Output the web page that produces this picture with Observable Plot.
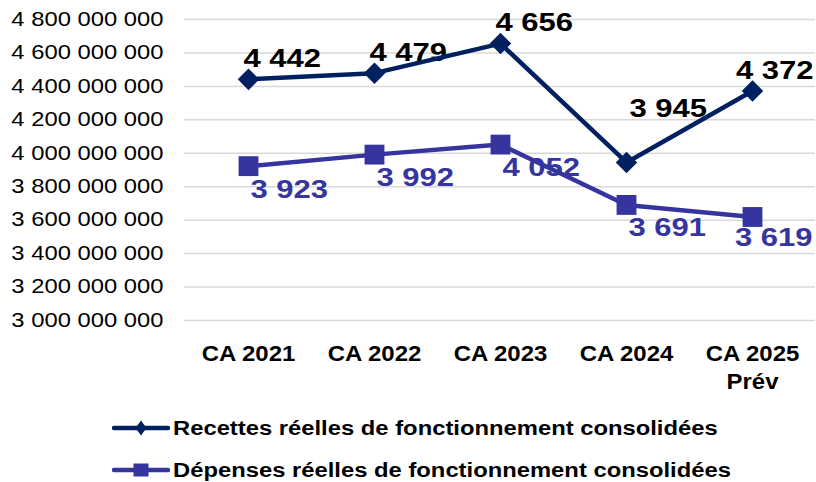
<!DOCTYPE html>
<html>
<head>
<meta charset="utf-8">
<script src="https://cdn.jsdelivr.net/npm/d3@7"></script>
<script src="https://cdn.jsdelivr.net/npm/@observablehq/plot@0.6"></script>
<style>
  body { margin: 0; background: #fff; font-family: "Liberation Sans", Arial, sans-serif; }
  #chart svg { display: block; }
  #legend { margin-left: 112px; margin-top: 12px; }
  .row { display: flex; align-items: center; height: 42px; font-weight: bold; font-size: 19.5px; color: #000; white-space: nowrap; }
  .row svg { display: block; margin-right: 3px; }
  .row span { display: inline-block; transform: scaleX(1.22); transform-origin: 0 50%; }
</style>
</head>
<body>
<div id="chart"></div>
<div id="legend"></div>
<script>
// ---- Data (values in millions of euros) ----
const categories = ["CA 2021", "CA 2022", "CA 2023", "CA 2024", "CA 2025 Prév"];
const recettes = [4442, 4479, 4656, 3945, 4372];
const depenses = [3923, 3992, 4052, 3691, 3619];
const seriesNames = [
  "Recettes réelles de fonctionnement consolidées",
  "Dépenses réelles de fonctionnement consolidées"
];
const yTicks = [3000000000, 3200000000, 3400000000, 3600000000, 3800000000,
                4000000000, 4200000000, 4400000000, 4600000000, 4800000000];

const colR = "#002060";
const colD = "#36359f";

const fmt = v => d3.format(",")(v).replace(/,/g, " ");
const build = arr => categories.map((c, i) => ({ cat: c, value: arr[i] * 1e6, text: fmt(arr[i]), i }));
const rec = build(recettes);
const dep = build(depenses);
const n = categories.length;
const isLast = d => d.i === n - 1;
const trough = arr => d => d.i > 0 && d.i < n - 1 && arr[d.i] < arr[d.i - 1] && arr[d.i] < arr[d.i + 1];
const recTrough = trough(recettes);

const labelStyle = { x: "cat", y: "value", text: "text", fontSize: 26.5, fontWeight: "bold" };

const plot = Plot.plot({
  width: 816,
  height: 395,
  marginLeft: 184,
  marginRight: 1,
  marginTop: 19,
  marginBottom: 75,
  style: { fontFamily: "'Liberation Sans', Arial, sans-serif", background: "#fff", overflow: "visible", color: "#000" },
  x: { type: "point", domain: categories, padding: 0.5 },
  y: { domain: [3000000000, 4800000000] },
  marks: [
    Plot.gridY({ ticks: yTicks, stroke: "#d9d9d9", strokeOpacity: 1, strokeWidth: 1.5 }),
    Plot.axisY({ ticks: yTicks, tickSize: 0, tickPadding: 21, fontSize: 19.5, tickFormat: fmt, label: null, fill: "#000" }),
    Plot.axisX({ tickSize: 0, tickPadding: 21, fontSize: 22, fontWeight: "bold", lineHeight: 1.27,
                 tickFormat: d => d.replace(" Prév", "\nPrév"), label: null, fill: "#000" }),
    // data labels (drawn beneath the lines)
    Plot.text(rec.filter(d => !isLast(d) && !recTrough(d)), { ...labelStyle, textAnchor: "start", dx: -5, dy: -21, fill: "#000" }),
    Plot.text(rec.filter(recTrough), { ...labelStyle, textAnchor: "start", dx: 3, dy: -54, fill: "#000" }),
    Plot.text(rec.filter(isLast), { ...labelStyle, textAnchor: "end", dx: 61, dy: -21, fill: "#000" }),
    Plot.text(dep.filter(d => !isLast(d)), { ...labelStyle, textAnchor: "start", dx: 2, dy: 23, fill: colD }),
    Plot.text(dep.filter(isLast), { ...labelStyle, textAnchor: "end", dx: 60, dy: 21, fill: colD }),
    // lines and markers
    Plot.line(rec, { x: "cat", y: "value", stroke: colR, strokeWidth: 4.5 }),
    Plot.line(dep, { x: "cat", y: "value", stroke: colD, strokeWidth: 4.5 }),
    Plot.dot(rec, { x: "cat", y: "value", symbol: "diamond2", r: 9.7, fill: colR, stroke: null }),
    Plot.dot(dep, { x: "cat", y: "value", symbol: "square", r: 11.2, fill: colD, stroke: null })
  ]
});

document.getElementById("chart").appendChild(plot);

// horizontal text stretch to match the reference's wide glyphs
plot.querySelectorAll("text").forEach(t => {
  const fs = parseFloat(getComputedStyle(t).fontSize);
  const s = fs > 25 ? 1.17 : fs > 21 ? 1.09 : 1.22;
  let tr = t.getAttribute("transform");
  if (!tr) {
    const x = t.getAttribute("x") || 0, y = t.getAttribute("y") || 0;
    t.removeAttribute("x"); t.removeAttribute("y");
    tr = `translate(${x},${y})`;
  }
  t.setAttribute("transform", tr + ` scale(${s},1)`);
});

// legend
const legendItems = [
  { name: seriesNames[0], color: colR, shape: "diamond" },
  { name: seriesNames[1], color: colD, shape: "square" }
];
const legend = d3.select("#legend");
legendItems.forEach(item => {
  const row = legend.append("div").attr("class", "row");
  const sw = row.append("svg").attr("width", 58).attr("height", 22);
  sw.append("line").attr("x1", 2).attr("x2", 56).attr("y1", 11).attr("y2", 11)
    .attr("stroke", item.color).attr("stroke-width", 4.5).attr("stroke-linecap", "round");
  if (item.shape === "diamond") {
    sw.append("path").attr("d", "M29,3.5L34.5,11L29,18.5L23.5,11Z").attr("fill", item.color);
  } else {
    sw.append("rect").attr("x", 21.5).attr("y", 4.5).attr("width", 15).attr("height", 13).attr("fill", item.color);
  }
  row.append("span").text(item.name);
});
</script>
</body>
</html>
